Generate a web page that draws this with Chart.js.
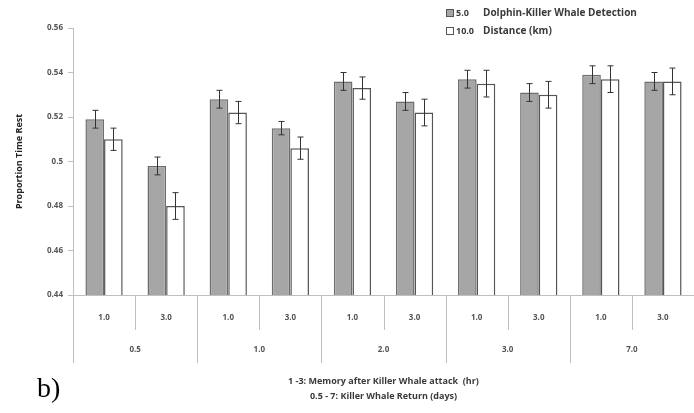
<!DOCTYPE html>
<html>
<head>
<meta charset="utf-8">
<script src="https://cdn.jsdelivr.net/npm/chart.js@4"></script>
<style>
    body { margin: 0; background: #fff; }
    #wrap { position: relative; width: 694px; height: 413px; }
    .txt { position: absolute; font-family: "Open Sans", "Liberation Sans", sans-serif; color: #3a3a3a; font-weight: bold; font-size: 9px; white-space: nowrap; }
    .sw { display: inline-block; width: 6px; height: 6px; border: 1px solid #555; margin-right: 2px; vertical-align: -1px; }
</style>
</head>
<body>
<div id="wrap">
    <canvas id="chart" width="694" height="413"></canvas>
    <div class="txt" style="left:446px; top:6px;"><span class="sw" style="background:#a6a6a6"></span>5.0</div>
    <div class="txt" style="left:446px; top:24px;"><span class="sw" style="background:#fff"></span>10.0</div>
    <div class="txt" style="left:483px; top:5px; font-size:10px;">Dolphin-Killer Whale Detection</div>
    <div class="txt" style="left:483px; top:23px; font-size:10px;">Distance (km)</div>
    <div class="txt" style="left:37px; top:372px; font-family:'Liberation Serif', serif; font-weight:normal; font-size:28px; color:#000;">b)</div>
</div>
<script>
// Data
const memoryLabels = ['1.0', '3.0', '1.0', '3.0', '1.0', '3.0', '1.0', '3.0', '1.0', '3.0'];
const returnLabels = ['0.5', '1.0', '2.0', '3.0', '7.0'];
const seriesNames = ['5.0', '10.0'];
const near = [0.519, 0.498, 0.528, 0.515, 0.536, 0.527, 0.537, 0.531, 0.539, 0.536];
const far = [0.510, 0.480, 0.522, 0.506, 0.533, 0.522, 0.535, 0.530, 0.537, 0.536];
const nearErr = [0.004, 0.004, 0.004, 0.003, 0.004, 0.004, 0.004, 0.004, 0.004, 0.004];
const farErr = [0.005, 0.006, 0.005, 0.005, 0.005, 0.006, 0.006, 0.006, 0.006, 0.006];
const yTicks = [0.44, 0.46, 0.48, 0.5, 0.52, 0.54, 0.56];
const xTitle = ['1 -3: Memory after Killer Whale attack  (hr)', '0.5 - 7: Killer Whale Return (days)'];

const axisGray = '#bfbfbf';
const tickFont = { family: '"Open Sans", "Liberation Sans", sans-serif', size: 8, weight: 'bold' };

// error bars and the two-row category axis
const extras = {
    id: 'extras',
    afterDatasetsDraw(chart) {
        const ctx = chart.ctx;
        const y = chart.scales.y;
        const errs = [nearErr, farErr];
        ctx.save();
        ctx.strokeStyle = '#333';
        ctx.lineWidth = 1;
        chart.data.datasets.forEach((ds, di) => {
            chart.getDatasetMeta(di).data.forEach((bar, i) => {
                const top = y.getPixelForValue(ds.data[i] + errs[di][i]);
                const bot = y.getPixelForValue(ds.data[i] - errs[di][i]);
                const x = Math.round(bar.x) + 0.5;
                ctx.beginPath();
                ctx.moveTo(x, top); ctx.lineTo(x, bot);
                ctx.moveTo(x - 3, top); ctx.lineTo(x + 3, top);
                ctx.moveTo(x - 3, bot); ctx.lineTo(x + 3, bot);
                ctx.stroke();
            });
        });
        ctx.restore();
    },
    afterDraw(chart) {
        const ctx = chart.ctx;
        const xs = chart.scales.x;
        const area = chart.chartArea;
        const w = (area.right - area.left) / memoryLabels.length;
        ctx.save();
        ctx.strokeStyle = axisGray;
        ctx.lineWidth = 1;
        for (let i = 0; i <= memoryLabels.length; i++) {
            const x = Math.round(area.left + i * w) + 0.5;
            ctx.beginPath();
            ctx.moveTo(x, area.bottom);
            ctx.lineTo(x, area.bottom + (i % 2 === 0 ? 68 : 35));
            ctx.stroke();
        }
        ctx.fillStyle = '#555';
        ctx.font = 'bold 8px "Open Sans", "Liberation Sans", sans-serif';
        ctx.textAlign = 'center';
        ctx.textBaseline = 'middle';
        returnLabels.forEach((lab, g) => {
            const cx = (xs.getPixelForValue(g * 2) + xs.getPixelForValue(g * 2 + 1)) / 2;
            ctx.fillText(lab, cx, area.bottom + 55);
        });
        ctx.fillStyle = '#3a3a3a';
        ctx.font = 'bold 9px "Open Sans", "Liberation Sans", sans-serif';
        const mid = (area.left + area.right) / 2;
        ctx.fillText(xTitle[0], mid, area.bottom + 86);
        ctx.fillText(xTitle[1], mid, area.bottom + 101);
        ctx.restore();
    }
};

new Chart(document.getElementById('chart'), {
    type: 'bar',
    data: {
        labels: memoryLabels,
        datasets: [{
            label: seriesNames[0],
            data: near,
            backgroundColor: '#a6a6a6',
            borderColor: '#6e6e6e',
            borderWidth: 1.5
        }, {
            label: seriesNames[1],
            data: far,
            backgroundColor: '#ffffff',
            borderColor: '#555555',
            borderWidth: 1.5
        }]
    },
    options: {
        responsive: false,
        animation: false,
        layout: { padding: { top: 28, right: 0, left: 14, bottom: 0 } },
        categoryPercentage: 0.6,
        barPercentage: 1.0,
        plugins: { legend: { display: false }, tooltip: { enabled: false } },
        scales: {
            x: {
                grid: { display: false },
                border: { color: axisGray },
                ticks: { color: '#555', font: tickFont, padding: 10, maxRotation: 0 },
                afterFit(scale) { scale.height = 118; }
            },
            y: {
                min: 0.44,
                max: 0.56,
                afterBuildTicks(scale) { scale.ticks = yTicks.map(v => ({ value: v })); },
                grid: { drawOnChartArea: false, drawTicks: true, tickLength: 5, color: axisGray },
                border: { color: axisGray },
                ticks: {
                    color: '#555',
                    font: tickFont,
                    padding: 5,
                    callback: v => String(Math.round(v * 100) / 100)
                },
                title: {
                    display: true,
                    text: 'Proportion Time Rest',
                    color: '#222',
                    font: { family: '"Open Sans", "Liberation Sans", sans-serif', size: 9, weight: 'bold' },
                    padding: { top: 0, bottom: 0 }
                },
                afterFit(scale) { scale.width = 59; }
            }
        }
    },
    plugins: [extras]
});
</script>
</body>
</html>
